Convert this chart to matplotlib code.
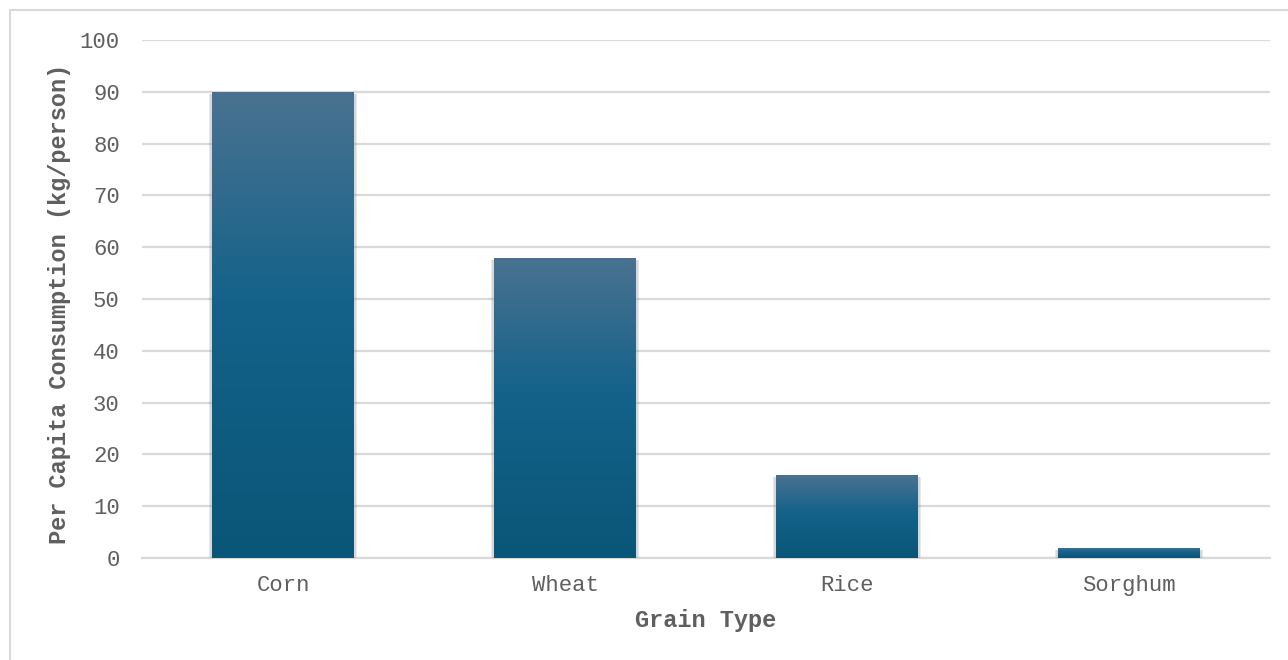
import matplotlib
matplotlib.use('Agg')
import matplotlib.pyplot as plt
import matplotlib.patheffects as pe
from matplotlib.colors import LinearSegmentedColormap
from matplotlib.patches import Rectangle
import numpy as np

# ── Data ──────────────────────────────────────────────────────────────────
grains = ['Corn', 'Wheat', 'Rice', 'Sorghum']
consumption = [90, 58, 16, 2]
y_ticks = list(range(0, 101, 10))

# ── Theme ─────────────────────────────────────────────────────────────────
TEXT = '#5f5f5f'
GRID = '#D9D9D9'
FONT = 'Liberation Mono'
bar_cmap = LinearSegmentedColormap.from_list(
    'bar', [(0.0, '#0A5678'), (0.55, '#14628A'), (1.0, '#4A7290')])

plt.rcParams['font.family'] = [FONT, 'DejaVu Sans']

fig = plt.figure(figsize=(12.88, 6.6), dpi=100)
ax = fig.add_axes([142 / 1288, 1 - 558 / 660, 1128 / 1288, 518 / 660])

# outer chart-area border
fig.patches.append(Rectangle((10 / 1288, -0.1), 2, (650 / 660) + 0.1,
                             transform=fig.transFigure, fill=False,
                             edgecolor=GRID, linewidth=1.5, zorder=0))

# ── Bars with vertical gradient and soft shadow ───────────────────────────
x = np.arange(len(grains))
bars = ax.bar(x, consumption, width=0.503, color='none', zorder=2.9)
gradient = np.linspace(0, 1, 256).reshape(-1, 1)
shadow = [pe.SimplePatchShadow(offset=(dx, -1.5), shadow_rgbFace='#8a8a8a', alpha=0.18)
          for dx in (-2.5, -1.5, 1.5, 2.5)]
for b in bars:
    b.set_path_effects(shadow + [pe.Normal()])
    bx, by, bw, bh = b.get_x(), b.get_y(), b.get_width(), b.get_height()
    im = ax.imshow(gradient, cmap=bar_cmap, origin='lower', aspect='auto',
                   extent=[bx, bx + bw, by, by + bh], zorder=3)
    im.set_clip_path(b)

# ── Axes style ────────────────────────────────────────────────────────────
ax.set_xlim(-0.5, len(grains) - 0.5)
ax.set_ylim(0, 100)
ax.set_xticks(x)
ax.set_xticklabels(grains)
ax.set_yticks(y_ticks)
ax.tick_params(axis='both', length=0, colors=TEXT, labelsize=16)
ax.tick_params(axis='y', pad=16)
ax.tick_params(axis='x', pad=12)

ax.grid(axis='y', color=GRID, linewidth=1.6, zorder=1)
ax.set_axisbelow(True)
for side in ['top', 'right', 'left']:
    ax.spines[side].set_visible(False)
ax.spines['bottom'].set_color(GRID)
ax.spines['bottom'].set_linewidth(1.6)

ax.set_xlabel('Grain Type', fontsize=17, fontweight='bold', color=TEXT, va='center')
ax.xaxis.set_label_coords(0.5, -0.1216)
ax.set_ylabel('Per Capita Consumption (kg/person)', fontsize=17, fontweight='bold',
              color=TEXT, va='center')
ax.yaxis.set_label_coords(-0.0727, 0.491)

plt.savefig('out.png', dpi=100, facecolor='white')
plt.close()
